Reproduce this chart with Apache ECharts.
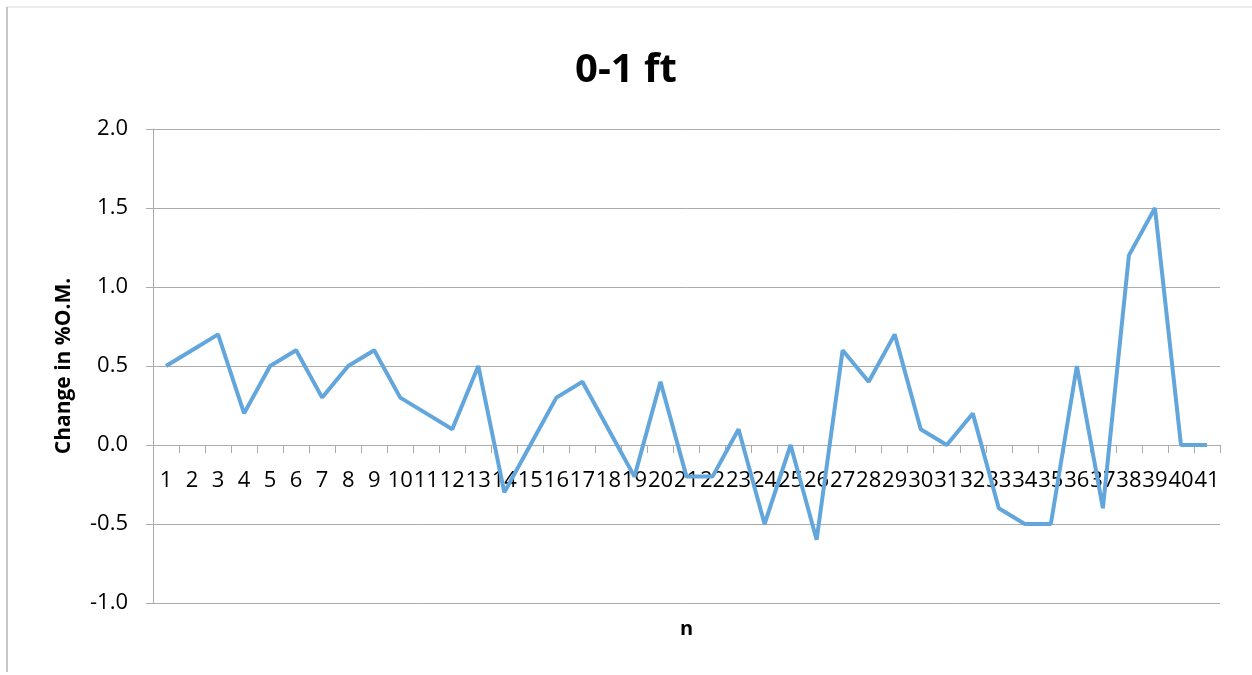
<!DOCTYPE html>
<html>
<head>
<meta charset="utf-8">
<script src="https://cdn.jsdelivr.net/npm/echarts@6/dist/echarts.min.js"></script>
<style>
  html, body { margin: 0; padding: 0; background: #fff; }
  #chart { width: 1252px; height: 675px; }
</style>
</head>
<body>
<div id="chart"></div>
<script>
// Sample numbers 1..41
const categories = Array.from({ length: 41 }, (_, i) => String(i + 1));

// Change in organic matter (%) for the 0-1 ft layer
const omChange = [
  0.5, 0.6, 0.7, 0.2, 0.5, 0.6, 0.3, 0.5, 0.6, 0.3,
  0.2, 0.1, 0.5, -0.3, 0.0, 0.3, 0.4, 0.1, -0.2, 0.4,
  -0.2, -0.2, 0.1, -0.5, 0.0, -0.6, 0.6, 0.4, 0.7, 0.1,
  0.0, 0.2, -0.4, -0.5, -0.5, 0.5, -0.4, 1.2, 1.5, 0.0,
  0.0
];

const yMin = -1.0;
const yMax = 2.0;
const yStep = 0.5;

const gridColor = '#ABABAB';
const font = '"Open Sans", "Liberation Sans", sans-serif';

// Plot box inside the 1252x675 canvas
const grid = { left: 153, right: 32, top: 129, bottom: 72 };
const plotHeight = 675 - grid.top - grid.bottom;
// The category axis sits on the zero line, labels included
const zeroOffset = -((0 - yMin) / (yMax - yMin)) * plotHeight;

const chart = echarts.init(document.getElementById('chart'));
chart.setOption({
  backgroundColor: '#ffffff',
  animation: false,
  title: {
    text: '0-1 ft',
    left: 'center',
    top: 46,
    textStyle: { fontFamily: font, fontSize: 40, fontWeight: 'bold', color: '#000' }
  },
  graphic: [
    { type: 'line', shape: { x1: 7, y1: 7, x2: 1252, y2: 7 }, style: { stroke: '#D9D9D9', lineWidth: 1 } },
    { type: 'line', shape: { x1: 7, y1: 7, x2: 7, y2: 672 }, style: { stroke: '#B5B5B5', lineWidth: 1.5 } }
  ],
  grid: Object.assign({ containLabel: false, outerBoundsMode: 'none' }, grid),
  xAxis: {
    type: 'category',
    data: categories,
    boundaryGap: true,
    offset: zeroOffset,
    name: 'n',
    nameLocation: 'middle',
    nameGap: 174,
    nameTextStyle: { fontFamily: font, fontSize: 20, fontWeight: 'bold', color: '#000' },
    axisLine: { onZero: false, lineStyle: { color: gridColor, width: 1 } },
    axisTick: { show: true, length: 8, interval: 0, lineStyle: { color: gridColor } },
    axisLabel: { interval: 0, margin: 25, fontFamily: font, fontSize: 22, color: '#000' },
    splitLine: { show: false }
  },
  yAxis: {
    type: 'value',
    min: yMin,
    max: yMax,
    interval: yStep,
    name: 'Change in %O.M.',
    nameLocation: 'middle',
    nameGap: 78,
    nameRotate: 90,
    nameTextStyle: { fontFamily: font, fontSize: 21, fontWeight: 'bold', color: '#000' },
    axisLine: { show: true, lineStyle: { color: gridColor, width: 1 } },
    axisTick: { show: true, length: 7, lineStyle: { color: gridColor } },
    axisLabel: {
      margin: 25,
      fontFamily: font,
      fontSize: 22,
      color: '#000',
      formatter: v => v.toFixed(1)
    },
    splitLine: { show: true, lineStyle: { color: gridColor, width: 1 } }
  },
  series: [{
    type: 'line',
    data: omChange,
    symbol: 'none',
    lineStyle: { color: '#62A6DC', width: 4 },
    itemStyle: { color: '#62A6DC' }
  }]
});
</script>
</body>
</html>
